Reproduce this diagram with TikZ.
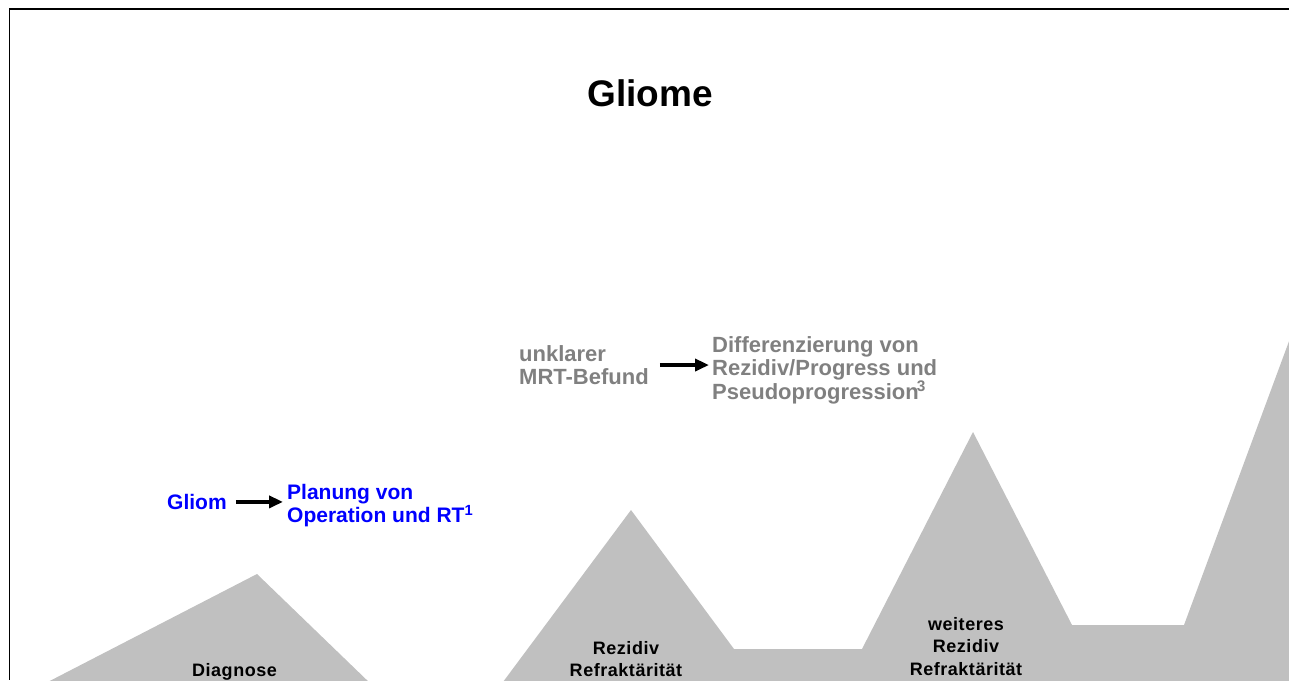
\documentclass[tikz,border=0pt]{standalone}
\usepackage{fontspec}
\setmainfont{Liberation Sans}
\newfontfamily\lblfont[LetterSpace=3]{Liberation Sans}
\usetikzlibrary{arrows.meta}
\definecolor{mount}{RGB}{192,192,192}
\definecolor{greytxt}{RGB}{128,128,128}
\definecolor{bluetxt}{RGB}{0,0,255}
\begin{document}
\begin{tikzpicture}[x=1pt,y=-1pt,
  big/.style={font=\fontsize{22}{23.5}\selectfont\bfseries, inner sep=0pt, align=left, anchor=north west},
  bigblue/.style={big, font=\fontsize{21}{23.5}\selectfont\bfseries, text=bluetxt},
  lbl/.style={font=\lblfont\fontsize{18}{22.5}\selectfont\bfseries, inner sep=0pt, align=center, anchor=north},
  arr/.style={line width=3.5pt, -{Triangle[length=14pt,width=12pt]}}]
\useasboundingbox (0,0) rectangle (1289,680);
\begin{scope}
  \clip (0,0) rectangle (1289,680);
  \fill[mount] (40,686) -- (257,574) -- (373,686) -- (500,686) -- (631,510) -- (734,649)
    -- (862,649) -- (973,432) -- (1072,625) -- (1184,625) -- (1295,325) -- (1295,686) -- cycle;
\end{scope}
\draw[line width=2.5pt] (9,9) -- (1289,9);
\draw[line width=1.3pt] (9.7,8) -- (9.7,680);

\node[font=\fontsize{37}{40}\selectfont\bfseries, inner sep=0pt, anchor=north] (title) at (650,79) {Gliome};

\node[bigblue] (gliom) at (167,494) {Gliom};
\node[bigblue] (plan) at (287,484) {Planung von\\Operation und RT\textsuperscript{1}};
\draw[arr, shorten <=9pt, shorten >=4pt] (gliom.east) -- (gliom.east -| plan.west);

\node[big, text=greytxt] (unk) at (519,345) {unklarer\\MRT-Befund};
\node[big, text=greytxt] (diff) at (712,336) {Differenzierung von\\Rezidiv/Progress und\\Pseudoprogression\kern-2pt\textsuperscript{3}};
\draw[arr, shorten <=11pt, shorten >=3pt] (unk.east) -- (unk.east -| diff.west);

\node[lbl] (diag) at (234.5,663) {Diagnose};
\node[lbl] (rez1) at (626,641) {Rezidiv\\Refraktärität};
\node[lbl] (rez2) at (966,617) {weiteres\\Rezidiv\\Refraktärität};
\end{tikzpicture}
\end{document}
